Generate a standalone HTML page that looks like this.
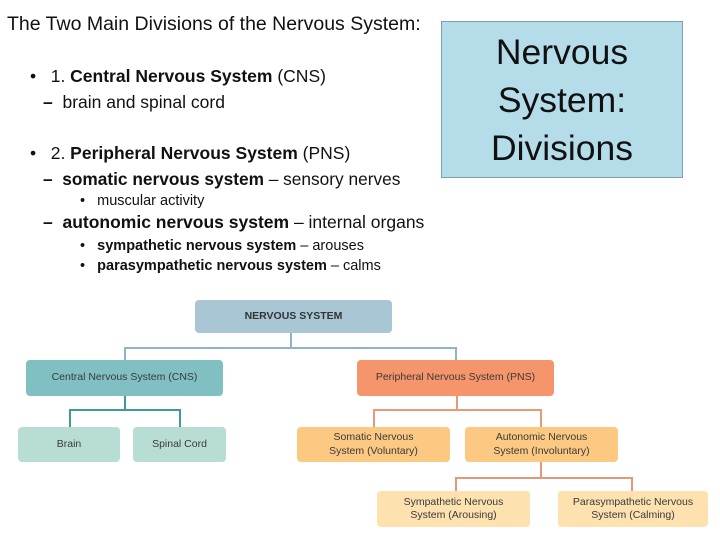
<!DOCTYPE html>
<html><head><meta charset="utf-8"><style>
body{margin:0;width:720px;height:540px;background:#fff;position:relative;overflow:hidden;font-family:"Liberation Sans",sans-serif;color:#111}
.t{position:absolute;white-space:nowrap;line-height:1}
.b{position:absolute;border-radius:4px;display:flex;align-items:center;justify-content:center;text-align:center;font-size:10.5px;color:#3a3a3a;line-height:1.25}
.l{position:absolute}
</style></head><body>
<div class="t" style="left:7px;top:15px;font-size:19.5px">The Two Main Divisions of the Nervous System:</div>
<div class="t" style="left:30px;top:68px;font-size:17.5px">•&nbsp;&nbsp;&nbsp;1. <b>Central Nervous System</b> (CNS)</div>
<div class="t" style="left:43px;top:94px;font-size:17.5px"><b>–</b>&nbsp;&nbsp;brain and spinal cord</div>
<div class="t" style="left:30px;top:145px;font-size:17.5px">•&nbsp;&nbsp;&nbsp;2. <b>Peripheral Nervous System</b> (PNS)</div>
<div class="t" style="left:43px;top:171px;font-size:17.3px"><b>–</b>&nbsp;&nbsp;<b>somatic nervous system</b> – sensory nerves</div>
<div class="t" style="left:80px;top:194px;font-size:14.5px">•&nbsp;&nbsp;&nbsp;muscular activity</div>
<div class="t" style="left:43px;top:214px;font-size:17.5px"><b>–</b>&nbsp;&nbsp;<b>autonomic nervous system</b> – internal organs</div>
<div class="t" style="left:80px;top:239px;font-size:14.5px">•&nbsp;&nbsp;&nbsp;<b>sympathetic nervous system</b> – arouses</div>
<div class="t" style="left:80px;top:259px;font-size:14.5px">•&nbsp;&nbsp;&nbsp;<b>parasympathetic nervous system</b> – calms</div>

<div style="position:absolute;left:441px;top:21px;width:242px;height:157px;background:#b5dce9;border:1px solid #7f9fb0;text-align:center;font-size:35.5px;line-height:48px;padding-top:6px;box-sizing:border-box">Nervous<br>System:<br>Divisions</div>

<!-- connectors -->
<div class="l" style="left:290px;top:333px;width:2px;height:15px;background:#8fb5c5"></div>
<div class="l" style="left:124px;top:347px;width:333px;height:2px;background:#8fb5c5"></div>
<div class="l" style="left:124px;top:347px;width:2px;height:13px;background:#8fb5c5"></div>
<div class="l" style="left:455px;top:347px;width:2px;height:13px;background:#8fb5c5"></div>

<div class="l" style="left:124px;top:396px;width:2px;height:14px;background:#3f9a9a"></div>
<div class="l" style="left:69px;top:409px;width:112px;height:2px;background:#3f9a9a"></div>
<div class="l" style="left:69px;top:409px;width:2px;height:18px;background:#3f9a9a"></div>
<div class="l" style="left:179px;top:409px;width:2px;height:18px;background:#3f9a9a"></div>

<div class="l" style="left:456px;top:396px;width:2px;height:14px;background:#e89a78"></div>
<div class="l" style="left:373px;top:409px;width:169px;height:2px;background:#e89a78"></div>
<div class="l" style="left:373px;top:409px;width:2px;height:18px;background:#e89a78"></div>
<div class="l" style="left:540px;top:409px;width:2px;height:18px;background:#e89a78"></div>

<div class="l" style="left:540px;top:462px;width:2px;height:16px;background:#e09a78"></div>
<div class="l" style="left:455px;top:477px;width:178px;height:2px;background:#e09a78"></div>
<div class="l" style="left:455px;top:477px;width:2px;height:14px;background:#e09a78"></div>
<div class="l" style="left:631px;top:477px;width:2px;height:14px;background:#e09a78"></div>

<!-- boxes -->
<div class="b" style="left:195px;top:300px;width:197px;height:33px;background:#a9c6d5;font-weight:bold;color:#333">NERVOUS SYSTEM</div>
<div class="b" style="left:26px;top:360px;width:197px;height:36px;background:#80c0c2">Central Nervous System (CNS)</div>
<div class="b" style="left:357px;top:360px;width:197px;height:36px;background:#f6956b">Peripheral Nervous System (PNS)</div>
<div class="b" style="left:18px;top:427px;width:102px;height:35px;background:#b7ddd5">Brain</div>
<div class="b" style="left:133px;top:427px;width:93px;height:35px;background:#b7ddd5">Spinal Cord</div>
<div class="b" style="left:297px;top:427px;width:153px;height:35px;background:#fcc983">Somatic Nervous<br>System (Voluntary)</div>
<div class="b" style="left:465px;top:427px;width:153px;height:35px;background:#fcc983">Autonomic Nervous<br>System (Involuntary)</div>
<div class="b" style="left:377px;top:491px;width:153px;height:36px;background:#fde2b0">Sympathetic Nervous<br>System (Arousing)</div>
<div class="b" style="left:558px;top:491px;width:150px;height:36px;background:#fde2b0">Parasympathetic Nervous<br>System (Calming)</div>
</body></html>
